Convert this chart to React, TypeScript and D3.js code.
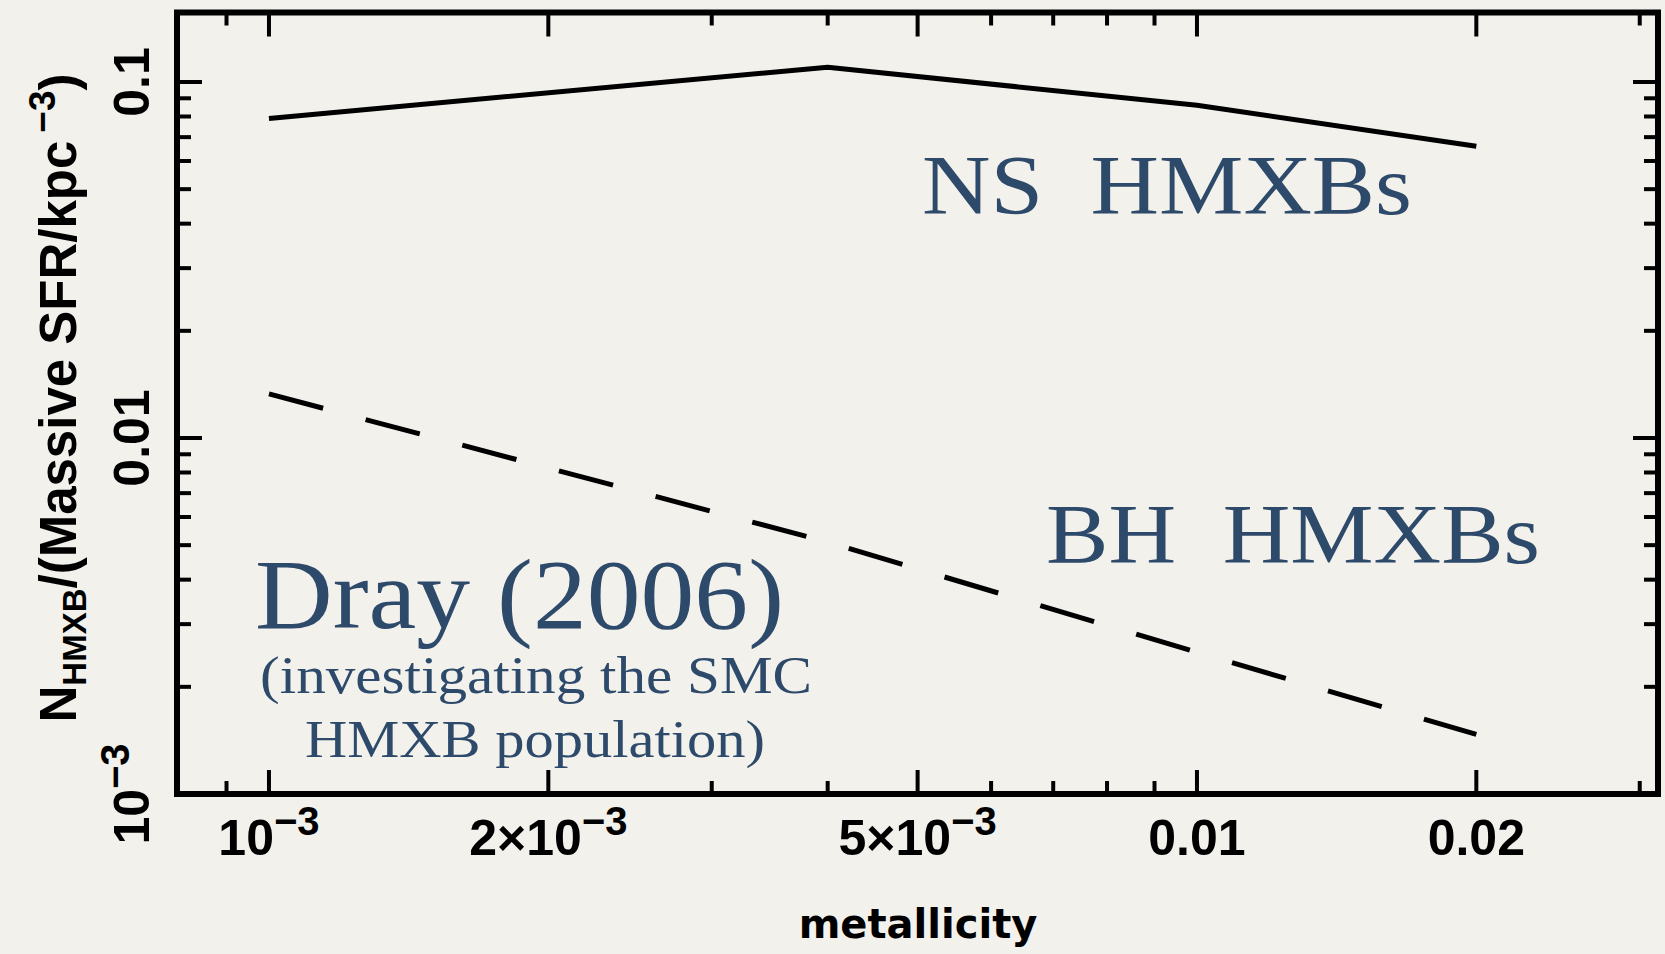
import React from "react";
import * as d3 from "d3";

// metallicity grid and N_HMXB rates
const nsZ = [0.001, 0.004, 0.01, 0.02];
const nsRate = [0.079, 0.11, 0.086, 0.066];
const bhZ = [0.001, 0.004, 0.01, 0.02];
const bhRate = [0.0133, 0.0051, 0.0025, 0.00147];

const xTickLabels = [
  { v: 0.001, base: "10", sup: "\u22123" },
  { v: 0.002, base: "2\u00d710", sup: "\u22123" },
  { v: 0.005, base: "5\u00d710", sup: "\u22123" },
  { v: 0.01, base: "0.01", sup: "" },
  { v: 0.02, base: "0.02", sup: "" },
];
const yTickLabels = [
  { v: 0.001, base: "10", sup: "\u22123" },
  { v: 0.01, base: "0.01", sup: "" },
  { v: 0.1, base: "0.1", sup: "" },
];

const W = 1665;
const H = 954;
const left = 177;
const right = 1658;
const top = 12.5;
const bottom = 794;

const bg = "#f3f1ec";
const ink = "#000";
const blue = "#2e4a6b";
const sans = "'Liberation Sans', Arial, sans-serif";
const serif = "'Liberation Serif', 'Times New Roman', serif";

export default function App() {
  const x = d3.scaleLog().domain([10 ** -3.0991, 10 ** -1.5032]).range([left, right]);
  const y = d3.scaleLog().domain([0.001, 10 ** -0.8048]).range([bottom, top]);

  const path = (zs: number[], rs: number[]) =>
    d3
      .line<[number, number]>()
      .x((d) => x(d[0]))
      .y((d) => y(d[1]))(zs.map((z, i) => [z, rs[i]]));

  const xMajor = xTickLabels.map((t) => t.v);
  const xTicks = x.ticks().filter((t) => x(t) > left + 6 && x(t) < right - 6);
  const yMajor = yTickLabels.map((t) => t.v);
  const yTicks = y.ticks().filter((t) => y(t) > top + 6 && y(t) < bottom - 6);
  const isMajor = (arr: number[], t: number) => arr.some((m) => Math.abs(m - t) / m < 1e-6);

  return (
    <svg
      width={W}
      height={H}
      style={{ position: "absolute", left: 0, top: 0, background: bg }}
    >
      <rect width={W} height={H} fill={bg} />

      {/* ticks on all four sides */}
      <g stroke={ink} strokeWidth={4}>
        {xTicks.map((t) => {
          const len = isMajor(xMajor, t) ? 24 : 13;
          return (
            <g key={"xt" + t}>
              <line x1={x(t)} x2={x(t)} y1={bottom} y2={bottom - len} />
              <line x1={x(t)} x2={x(t)} y1={top} y2={top + len} />
            </g>
          );
        })}
        {yTicks.map((t) => {
          const len = isMajor(yMajor, t) ? 25 : 14;
          return (
            <g key={"yt" + t}>
              <line x1={left} x2={left + len} y1={y(t)} y2={y(t)} />
              <line x1={right} x2={right - len} y1={y(t)} y2={y(t)} />
            </g>
          );
        })}
      </g>

      {/* data */}
      <path d={path(nsZ, nsRate) ?? ""} fill="none" stroke={ink} strokeWidth={5} strokeLinejoin="round" />
      <path
        d={path(bhZ, bhRate) ?? ""}
        fill="none"
        stroke={ink}
        strokeWidth={5}
        strokeDasharray="56 44"
      />

      {/* frame */}
      <rect
        x={left}
        y={top}
        width={right - left}
        height={bottom - top}
        fill="none"
        stroke={ink}
        strokeWidth={6}
      />

      {/* x tick labels */}
      <g fontFamily={sans} fontWeight="bold" fontSize={50} fill={ink}>
        {xTickLabels.map((t) => (
          <text key={"xl" + t.v} x={x(t.v)} y={855} textAnchor="middle">
            {t.base}
            {t.sup && (
              <tspan fontSize={40} dy={-20}>
                {t.sup}
              </tspan>
            )}
          </text>
        ))}
      </g>

      {/* y tick labels */}
      <g fontFamily={sans} fontWeight="bold" fontSize={50} fill={ink}>
        {yTickLabels.map((t) => (
          <text
            key={"yl" + t.v}
            transform={`translate(149,${y(t.v)}) rotate(-90)`}
            textAnchor="middle"
          >
            {t.base}
            {t.sup && (
              <tspan fontSize={40} dy={-20}>
                {t.sup}
              </tspan>
            )}
          </text>
        ))}
      </g>

      {/* axis titles */}
      <text
        x={918}
        y={938}
        textAnchor="middle"
        fontFamily="'DejaVu Sans', sans-serif"
        fontWeight="bold"
        fontSize={40}
        fill={ink}
      >
        metallicity
      </text>
      <text
        transform="translate(76,398) rotate(-90)"
        textAnchor="middle"
        fontFamily={sans}
        fontWeight="bold"
        fontSize={51}
        fill={ink}
      >
        N
        <tspan fontSize={33} dy={10}>
          HMXB
        </tspan>
        <tspan dy={-10}>/(Massive SFR/kpc</tspan>
        <tspan fontSize={37} dy={-21} dx={8}>
          {"\u22123"}
        </tspan>
        <tspan dy={21}>)</tspan>
      </text>

      {/* annotations */}
      <g fontFamily={serif} fill={blue}>
        <text x={922} y={214} fontSize={84} textLength={490} lengthAdjust="spacingAndGlyphs" xmlSpace="preserve">
          NS  HMXBs
        </text>
        <text x={1046} y={563} fontSize={84} textLength={494} lengthAdjust="spacingAndGlyphs" xmlSpace="preserve">
          BH  HMXBs
        </text>
        <text x={255} y={628} fontSize={100} textLength={529} lengthAdjust="spacingAndGlyphs">
          Dray (2006)
        </text>
        <text x={260} y={693} fontSize={52} textLength={552} lengthAdjust="spacingAndGlyphs">
          (investigating the SMC
        </text>
        <text x={305} y={757} fontSize={52} textLength={460} lengthAdjust="spacingAndGlyphs">
          HMXB population)
        </text>
      </g>
    </svg>
  );
}
